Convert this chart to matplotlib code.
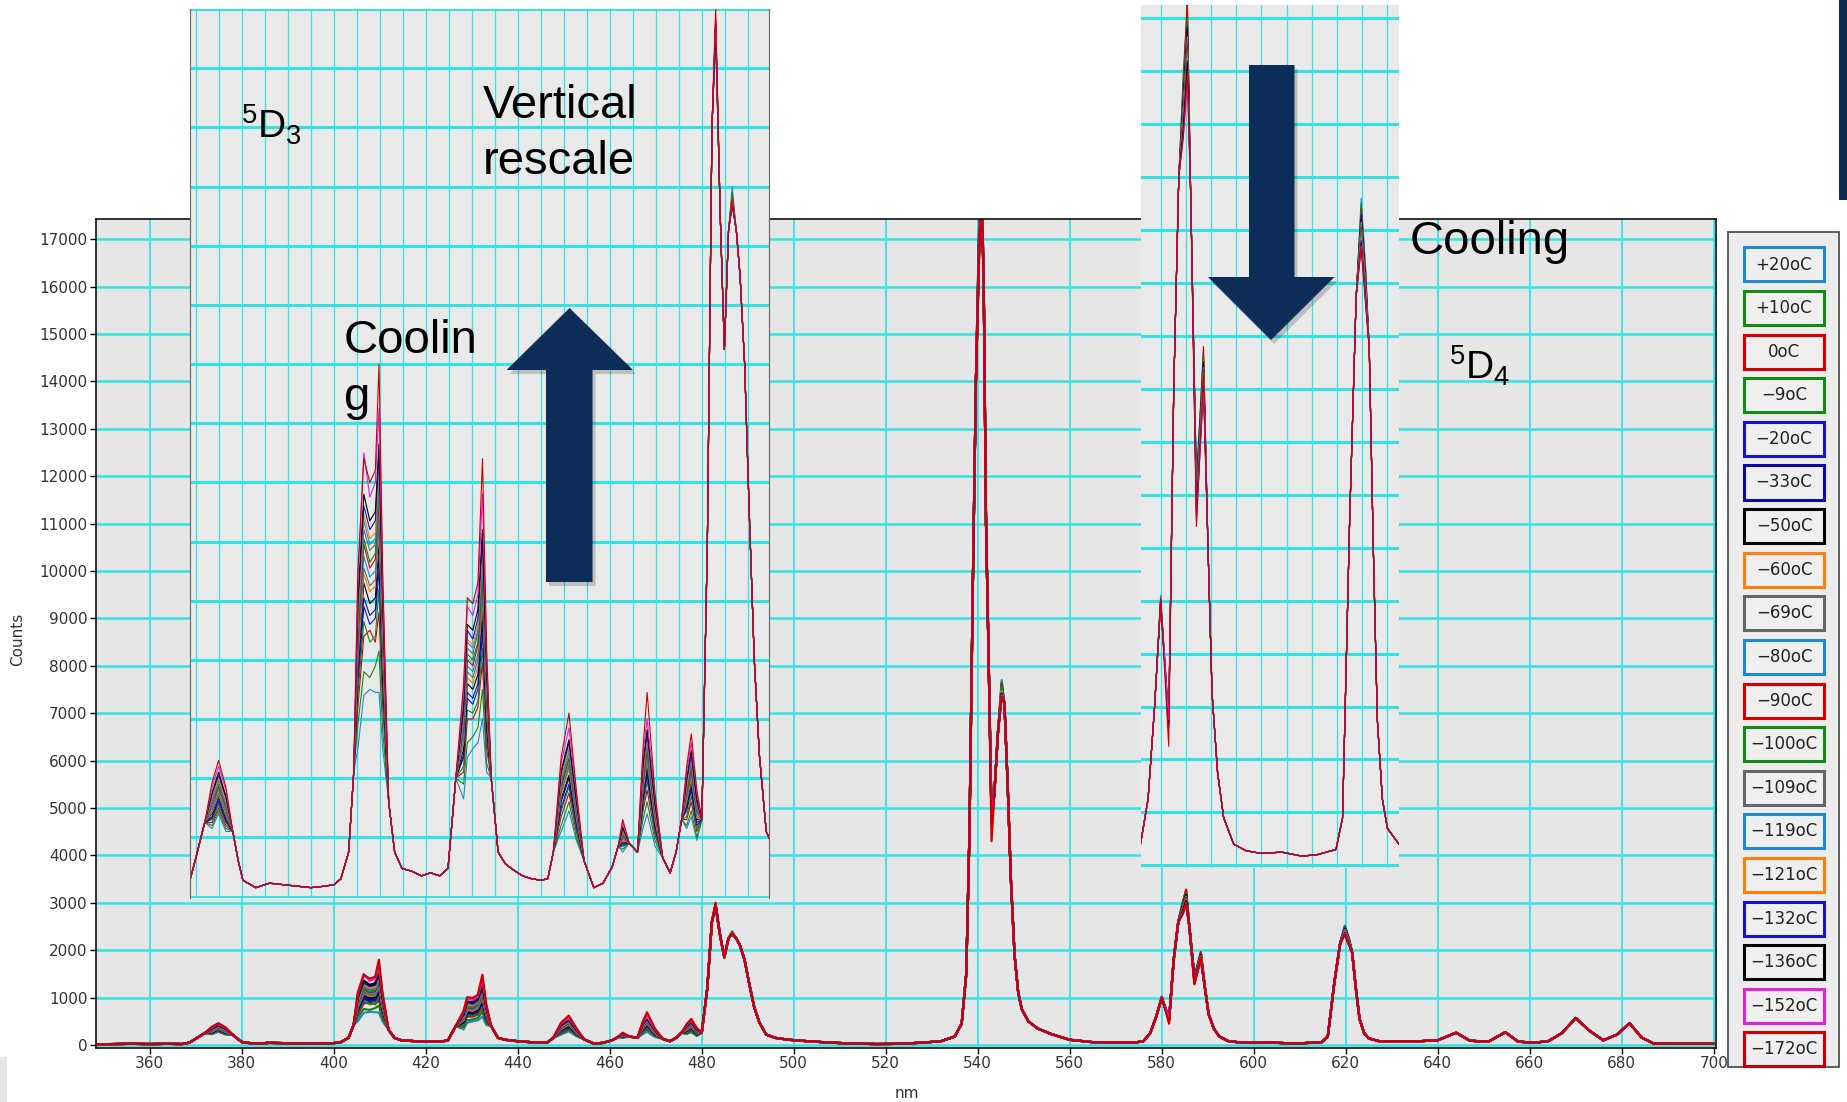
import numpy as np
import matplotlib
matplotlib.use("Agg")
import matplotlib.pyplot as plt
from matplotlib.patches import Rectangle, Polygon

plt.rcParams['mathtext.fontset'] = 'custom'
plt.rcParams['mathtext.rm'] = 'Liberation Sans'
plt.rcParams['mathtext.it'] = 'Liberation Sans:italic'
plt.rcParams['mathtext.bf'] = 'Liberation Sans:bold'
plt.rcParams['font.family'] = ['DejaVu Sans']

# ---------------- data ----------------
labels = ['+20oC', '+10oC', '0oC', '\u22129oC', '\u221220oC', '\u221233oC', '\u221250oC',
          '\u221260oC', '\u221269oC', '\u221280oC', '\u221290oC', '\u2212100oC', '\u2212109oC',
          '\u2212119oC', '\u2212121oC', '\u2212132oC', '\u2212136oC', '\u2212152oC', '\u2212172oC']
colors = ['#1f8ad0', '#138a13', '#d40000', '#138a13', '#1414c8', '#0a0aa8', '#000000',
          '#ff7f0e', '#666666', '#1f8ad0', '#d40000', '#138a13', '#666666',
          '#1f8ad0', '#ff7f0e', '#1414c8', '#000000', '#e020e0', '#cc0000']

# shared part of the spectra (nm, counts)
wavelength = [348.5, 352, 356, 360, 364, 367, 368.6, 369.8, 371.9, 378.0, 379.2, 380.2, 383, 386,
              389, 392, 395, 398, 400, 401.5, 403.2, 404.3, 411.9, 413.2, 414.8, 417, 419, 421,
              423, 424.8, 426.5, 434.2, 435.7, 437.3, 439, 441, 443, 445, 446.5, 447.7, 454.4,
              456.5, 458.5, 460.5, 461.8, 464.2, 466.0, 471.5, 473.1, 474.4, 475.6, 480.0,
              481.2, 482.2, 484.0, 484.9, 485.8, 487.5, 488.3, 489.3, 490.3, 491.4, 492.5,
              494, 496, 499, 503, 508, 513, 518, 523, 528, 532, 535, 536.5, 537.5, 538.2,
              538.9, 539.6, 541.3, 541.8, 542.3, 543.6, 544.4, 545.8, 546.5, 547.2, 548,
              548.8, 549.6, 551, 553, 556, 560, 565, 570, 574, 576, 577.5, 578.8, 582.6,
              583.6, 586.0, 589.4, 590.2, 591.3, 592.5, 594.5, 597, 600, 604, 608, 611,
              614.8, 616.1, 617.5, 618.8, 621.4, 622.2, 623.0, 624, 625, 627.3, 632, 636,
              640, 644, 647, 651, 654.7, 657.5, 661, 664, 667, 670, 673, 676, 679, 681.7,
              684.3, 687, 691, 695, 700]
base_counts = [15, 20, 25, 20, 25, 20, 50, 120, 250, 220, 120, 55, 30, 45,
               40, 35, 30, 35, 40, 60, 150, 420, 320, 150, 95, 85, 70, 80,
               70, 95, 400, 400, 150, 110, 90, 70, 60, 55, 60, 150, 120,
               30, 45, 100, 170, 180, 150, 130, 80, 150, 260, 260,
               1200, 2600, 2300, 1850, 2250, 2250, 2100, 1800, 1300, 800, 480,
               220, 150, 110, 80, 50, 30, 20, 25, 50, 80, 180, 450, 1500, 4500,
               9500, 14000, 16000, 11000, 8500, 5300, 6600, 7200, 5500, 3500, 1900,
               1100, 750, 500, 350, 230, 110, 60, 50, 50, 80, 250, 600, 1800,
               2600, 2500, 1200, 650, 350, 180, 80, 55, 45, 50, 35, 40,
               60, 180, 1300, 2150, 1950, 1200, 550, 250, 140, 80, 80, 80,
               100, 260, 90, 70, 270, 70, 50, 80, 250, 570, 300, 100, 220, 460,
               160, 30, 25, 25, 25]

# wavelengths where the temperature series differ
peak_nm = [373.5, 374.9, 376.5,
           405.2, 406.5, 407.8, 409.0, 409.8, 410.6,
           428.2, 429.0, 430.2, 431.3, 432.3, 433.2,
           449.4, 451.1, 452.7,
           462.8, 467.2, 468.1, 469.8,
           476.7, 477.7, 478.9,
           483.0, 486.6,
           540.3, 540.8, 543.0, 545.2,
           580.0, 581.6, 584.5, 585.3, 587.1, 588.5,
           619.8, 620.7]

s_p20 = [230, 280, 220, 500, 680, 700, 690, 690, 500, 330, 470, 500, 520, 600, 420, 220, 290, 190, 150, 230, 280, 170, 230, 270, 190, 2900, 2400, 17400, 18800, 4900, 7700, 1020, 560, 3000, 3250, 1450, 1950, 2520, 2250]
s_p10 = [240, 290, 230, 580, 760, 740, 780, 830, 560, 380, 520, 540, 570, 700, 450, 240, 320, 200, 160, 260, 320, 190, 240, 290, 200, 2920, 2380, 17200, 18700, 4850, 7650, 1010, 540, 2980, 3230, 1440, 1930, 2500, 2240]
s_0 = [250, 300, 240, 640, 880, 900, 860, 960, 640, 420, 600, 600, 640, 790, 500, 270, 350, 220, 170, 290, 360, 210, 260, 320, 220, 2960, 2350, 17300, 18600, 4700, 7600, 1000, 520, 2950, 3280, 1400, 1960, 2480, 2230]
s_m9 = [260, 310, 250, 680, 930, 860, 880, 1040, 680, 440, 630, 620, 660, 840, 530, 290, 370, 230, 170, 300, 390, 220, 270, 340, 230, 2900, 2370, 17100, 18500, 4800, 7550, 990, 550, 2930, 3200, 1460, 1920, 2470, 2210]
s_m20 = [265, 320, 255, 720, 980, 920, 940, 1110, 720, 470, 670, 650, 700, 890, 560, 300, 380, 240, 175, 320, 410, 230, 290, 360, 240, 2940, 2360, 17000, 18400, 4750, 7500, 1000, 530, 2900, 3170, 1420, 1900, 2460, 2200]
s_m33 = [270, 330, 260, 750, 1010, 950, 970, 1150, 750, 480, 690, 670, 720, 930, 570, 320, 400, 250, 180, 330, 420, 240, 300, 370, 250, 2930, 2340, 16900, 18300, 4800, 7450, 990, 540, 2880, 3150, 1430, 1880, 2450, 2190]
s_m50 = [280, 340, 270, 780, 1060, 990, 1010, 1200, 780, 500, 720, 700, 750, 970, 600, 330, 410, 260, 185, 350, 440, 250, 310, 390, 260, 2950, 2350, 17100, 18450, 4850, 7500, 1000, 550, 2890, 3160, 1400, 1900, 2440, 2200]
s_m60 = [285, 345, 275, 800, 1090, 1030, 1050, 1240, 800, 520, 740, 720, 780, 1000, 620, 340, 430, 265, 190, 360, 455, 255, 320, 400, 265, 2970, 2360, 16800, 18200, 4780, 7420, 1010, 560, 2870, 3130, 1380, 1870, 2430, 2180]
s_m69 = [290, 350, 280, 820, 1110, 1050, 1070, 1260, 820, 530, 760, 740, 800, 1020, 630, 350, 440, 270, 195, 370, 465, 260, 330, 410, 270, 2940, 2340, 16950, 18300, 4800, 7480, 1000, 550, 2860, 3120, 1390, 1880, 2420, 2180]
s_m80 = [300, 360, 290, 850, 1150, 1080, 1100, 1300, 850, 550, 780, 760, 820, 1050, 650, 360, 450, 280, 200, 380, 480, 270, 340, 420, 280, 2950, 2350, 17000, 18500, 4800, 7500, 1000, 550, 2850, 3100, 1400, 1880, 2420, 2170]
s_m90 = [310, 370, 300, 870, 1190, 1110, 1140, 1340, 870, 570, 800, 780, 850, 1080, 670, 370, 465, 290, 205, 390, 495, 280, 350, 430, 290, 2960, 2340, 16900, 18350, 4700, 7450, 990, 540, 2840, 3100, 1380, 1870, 2410, 2160]
s_m100 = [315, 380, 305, 890, 1210, 1130, 1160, 1370, 890, 580, 820, 800, 860, 1100, 680, 380, 470, 295, 210, 400, 505, 285, 355, 440, 295, 2930, 2360, 16850, 18250, 4800, 7550, 1000, 540, 2830, 3080, 1370, 1860, 2400, 2160]
s_m109 = [320, 390, 310, 920, 1240, 1170, 1190, 1400, 920, 590, 840, 820, 890, 1130, 700, 390, 485, 300, 215, 410, 520, 290, 365, 450, 300, 2940, 2350, 16900, 18300, 4750, 7480, 990, 550, 2820, 3070, 1360, 1850, 2390, 2150]
s_m119 = [330, 395, 320, 930, 1270, 1190, 1210, 1430, 930, 600, 860, 840, 900, 1160, 720, 395, 495, 310, 220, 420, 530, 300, 375, 460, 310, 2950, 2340, 16800, 18200, 4700, 7400, 1000, 540, 2810, 3060, 1350, 1840, 2380, 2150]
s_m121 = [335, 400, 325, 950, 1290, 1210, 1230, 1460, 950, 620, 870, 850, 920, 1180, 730, 400, 505, 315, 225, 425, 540, 300, 380, 470, 315, 2960, 2360, 16850, 18250, 4780, 7450, 990, 550, 2800, 3050, 1340, 1830, 2370, 2140]
s_m132 = [345, 410, 335, 980, 1320, 1240, 1270, 1500, 980, 630, 900, 870, 940, 1210, 750, 415, 520, 320, 230, 440, 550, 310, 390, 480, 320, 2940, 2350, 16800, 18150, 4700, 7420, 1000, 540, 2790, 3040, 1330, 1820, 2360, 2130]
s_m136 = [350, 420, 340, 1000, 1360, 1270, 1300, 1530, 1000, 650, 920, 900, 970, 1240, 770, 425, 530, 330, 235, 450, 565, 320, 400, 495, 330, 2950, 2340, 16750, 18100, 4750, 7400, 990, 540, 2780, 3030, 1320, 1810, 2350, 2130]
s_m152 = [370, 440, 360, 1060, 1500, 1350, 1400, 1650, 1060, 690, 980, 950, 1020, 1360, 810, 450, 570, 350, 250, 480, 600, 340, 420, 520, 350, 2970, 2350, 16700, 18000, 4700, 7380, 1000, 550, 2750, 2950, 1300, 1800, 2340, 2120]
s_m172 = [385, 460, 370, 1100, 1480, 1400, 1440, 1800, 1100, 720, 1010, 990, 1060, 1480, 840, 470, 620, 360, 260, 500, 690, 350, 440, 550, 360, 3000, 2360, 16650, 17900, 4300, 7350, 1010, 450, 2750, 3000, 1280, 1850, 2330, 2110]

series_values = [s_p20, s_p10, s_0, s_m9, s_m20, s_m33, s_m50, s_m60, s_m69, s_m80,
                 s_m90, s_m100, s_m109, s_m119, s_m121, s_m132, s_m136, s_m152, s_m172]

x_ticks = list(range(360, 701, 20))
y_ticks = list(range(0, 17001, 1000))


def build(values):
    pts = sorted(list(zip(wavelength, base_counts)) + list(zip(peak_nm, values)))
    return [p[0] for p in pts], [p[1] for p in pts]


# ---------------- layout helpers ----------------
W, H = 1847, 1102
fig = plt.figure(figsize=(W / 100, H / 100), dpi=100)
fig.patch.set_facecolor('white')


def box(l, t, r, b):
    return [l / W, 1 - b / H, (r - l) / W, (b - t) / H]


def fp(x, y):
    return (x / W, 1 - y / H)


CYAN = '#33e3e3'
NAVY = '#0c2d58'

# ---------------- main axes ----------------
ax = fig.add_axes(box(96, 219, 1716, 1048))
ax.set_facecolor('#e6e6e6')
for col, vals in zip(colors, series_values):
    xs, ys = build(vals)
    ax.plot(xs, ys, color=col, lw=1.6)
ax.set_xlim(348.3, 700.5)
ax.set_ylim(-63, 17426)
ax.set_xticks(x_ticks)
ax.set_yticks(y_ticks)
ax.set_axisbelow(True)
ax.grid(axis='x', color=CYAN, lw=1.3)
ax.grid(axis='y', color=CYAN, lw=1.8)
ax.tick_params(direction='out', length=4, width=1, labelsize=11, labelcolor='#333333', pad=2)
for sp in ax.spines.values():
    sp.set_color('#111111')
    sp.set_linewidth(1.2)

fig.text(*fp(18, 639), 'Counts', rotation=90, ha='center', va='center', fontsize=11, color='#333333')
fig.text(*fp(907, 1094), 'nm', ha='center', va='center', fontsize=11, color='#333333')

# ---------------- inset 1 (vertical rescale, 5D3 lines) ----------------
in1 = fig.add_axes(box(190, 9, 769, 898))
in1.set_facecolor('#e9e9e9')
for col, vals in zip(colors, series_values):
    xs, ys = build(vals)
    in1.plot(xs, ys, color=col, lw=0.8)
in1.set_xlim(368.7, 494.6)
in1.set_ylim(-5, 3000)
in1.set_xticks(np.arange(370, 495, 5))
in1.set_yticks(np.arange(0, 3001, 200))
in1.set_axisbelow(True)
in1.grid(axis='x', color=CYAN, lw=0.9)
in1.grid(axis='y', color=CYAN, lw=2.2)
in1.tick_params(length=0, labelbottom=False, labelleft=False)
for k in ('top', 'bottom'):
    in1.spines[k].set_visible(False)
for k in ('left', 'right'):
    in1.spines[k].set_color('#666666')
    in1.spines[k].set_linewidth(0.8)

# ---------------- inset 2 (5D4 lines) ----------------
in2 = fig.add_axes(box(1141, 5, 1399, 868))
in2.set_facecolor('#e9e9e9')
for col, vals in zip(colors, series_values):
    xs, ys = build(vals)
    in2.plot(xs, ys, color=col, lw=0.8)
in2.set_xlim(576.1, 627.3)
in2.set_ylim(-10, 3250)
in2.set_xticks(np.arange(580, 627, 5))
in2.set_yticks(np.arange(0, 3201, 200))
in2.set_axisbelow(True)
in2.grid(axis='x', color=CYAN, lw=0.9)
in2.grid(axis='y', color=CYAN, lw=2.2)
in2.tick_params(length=0, labelbottom=False, labelleft=False)
for sp in in2.spines.values():
    sp.set_visible(False)

# ---------------- legend ----------------
fig.add_artist(Rectangle(fp(1728, 1067), 111 / W, 835 / H, transform=fig.transFigure,
                         facecolor='#ececec', edgecolor='#444444', lw=1.2, zorder=5))
for i, (lab, col) in enumerate(zip(labels, colors)):
    cy = 264.5 + 43.6 * i
    fig.add_artist(Rectangle(fp(1744, cy + 17), 80 / W, 34 / H, transform=fig.transFigure,
                             facecolor='#efefef', edgecolor=col, lw=2.2, zorder=6))
    fig.text(*fp(1784, cy), lab, ha='center', va='center', fontsize=12,
             color='#222222', zorder=7)

# ---------------- arrows ----------------
up = [(569.5, 308), (633, 370), (592.5, 370), (592.5, 582), (546, 582), (546, 370), (506.5, 370)]
down = [(1249, 65), (1294.5, 65), (1294.5, 277), (1334.5, 277), (1271, 340), (1208, 277), (1249, 277)]
for pts in (up, down):
    fig.add_artist(Polygon([fp(x + 3, y + 4) for x, y in pts], closed=True, transform=fig.transFigure,
                           facecolor='#000000', alpha=0.18, edgecolor='none', zorder=8))
    fig.add_artist(Polygon([fp(x, y) for x, y in pts], closed=True, transform=fig.transFigure,
                           facecolor=NAVY, edgecolor='none', zorder=9))

# slide decorations
fig.add_artist(Rectangle(fp(1839, 200), 8 / W, 200 / H, transform=fig.transFigure,
                         facecolor='#0f2a4e', edgecolor='none', zorder=9))
fig.add_artist(Rectangle(fp(0, 1102), 7 / W, 45 / H, transform=fig.transFigure,
                         facecolor='#e6e6e6', edgecolor='none', zorder=9))

# ---------------- annotations ----------------
tkw = dict(family='Liberation Sans', color='black', ha='left', va='baseline', zorder=10)
fig.text(*fp(241, 139), r'$^{5}$D$_{3}$', fontsize=28, **tkw)
fig.text(*fp(483, 118), 'Vertical', fontsize=34, **tkw)
fig.text(*fp(483, 174), 'rescale', fontsize=34, **tkw)
fig.text(*fp(344, 353), 'Coolin', fontsize=34, **tkw)
fig.text(*fp(344, 410), 'g', fontsize=34, **tkw)
fig.text(*fp(1410, 254), 'Cooling', fontsize=34, **tkw)
fig.text(*fp(1449, 380), r'$^{5}$D$_{4}$', fontsize=28, **tkw)

fig.savefig('out.png', dpi=100, facecolor='white')
